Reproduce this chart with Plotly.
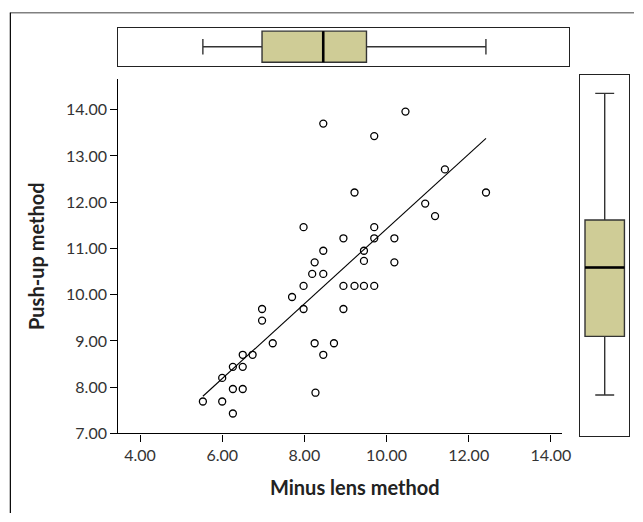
import numpy as np
import plotly.graph_objects as go

# Data
minus_lens = [5.53, 6.00, 6.26, 6.00, 6.26, 6.50, 6.26, 6.50, 6.50, 6.74,
              6.97, 6.97, 7.23, 7.70, 7.98, 7.98, 7.98, 8.19, 8.25, 8.46,
              8.46, 8.46, 8.25, 8.46, 8.27, 8.72, 8.95, 8.95, 8.95, 9.22,
              9.22, 9.45, 9.45, 9.45, 9.70, 9.70, 9.70, 9.70, 10.19, 10.19,
              10.46, 10.94, 11.18, 11.42, 12.42]
push_up = [7.69, 7.69, 7.43, 8.20, 7.96, 7.96, 8.44, 8.44, 8.70, 8.70,
           9.69, 9.44, 8.95, 9.95, 10.19, 9.69, 11.46, 10.45, 10.70, 10.45,
           10.95, 13.70, 8.95, 8.70, 7.88, 8.95, 10.19, 9.69, 11.22, 10.19,
           12.21, 10.19, 10.73, 10.95, 10.19, 11.22, 11.46, 13.43, 11.22, 10.70,
           13.96, 11.97, 11.70, 12.71, 12.21]
x_ticks = [4, 6, 8, 10, 12, 14]
y_ticks = [7, 8, 9, 10, 11, 12, 13, 14]
x_title = "Minus lens method"
y_title = "Push-up method"

xs = np.array(minus_lens)
ys = np.array(push_up)
slope, intercept = np.polyfit(xs, ys, 1)
fit_x = np.array([xs.min(), xs.max()])
fit_y = slope * fit_x + intercept

W, H = 643, 522
def px(x):
    return x / W
def py(y):
    return 1 - y / H

BOX_FILL = "#cfcc96"
BOX_LINE = "#333333"
FONT = "Lato"

fig = go.Figure()

# Regression line
fig.add_trace(go.Scatter(x=fit_x, y=fit_y, mode="lines",
                         line=dict(color="black", width=1.1),
                         hoverinfo="skip", showlegend=False,
                         xaxis="x", yaxis="y"))
# Scatter points
fig.add_trace(go.Scatter(x=minus_lens, y=push_up, mode="markers",
                         marker=dict(symbol="circle-open", size=7,
                                     color="black", line=dict(width=1.3)),
                         showlegend=False, xaxis="x", yaxis="y"))

# Top horizontal box (minus lens)
fig.add_trace(go.Box(x=minus_lens, y0=0, orientation="h", boxpoints=False,
                     width=0.81, whiskerwidth=0.5, quartilemethod="linear",
                     fillcolor=BOX_FILL, line=dict(color=BOX_LINE, width=1.4),
                     showlegend=False, xaxis="x2", yaxis="y2"))
# Right vertical box (push-up)
fig.add_trace(go.Box(y=push_up, x0=0, orientation="v", boxpoints=False,
                     width=0.8, whiskerwidth=0.48, quartilemethod="linear",
                     fillcolor=BOX_FILL, line=dict(color=BOX_LINE, width=1.4),
                     showlegend=False, xaxis="x3", yaxis="y3"))

med_x = float(np.median(xs))
med_y = float(np.median(ys))

tickfont = dict(family=FONT, size=16, color="#333333")

fig.update_layout(
    width=W, height=H,
    margin=dict(l=0, r=0, t=0, b=0),
    paper_bgcolor="white", plot_bgcolor="white",
    xaxis=dict(domain=[px(120), px(570)], range=[3.472, 14.27],
               tickvals=x_ticks, ticktext=[f"{v:.2f}" for v in x_ticks],
               ticks="outside", ticklen=7, tickcolor="black", tickwidth=1.2,
               showline=True, linecolor="black", linewidth=1.3,
               showgrid=False, zeroline=False, tickfont=tickfont,
               anchor="y"),
    yaxis=dict(domain=[py(441), py(80)], range=[7, 14.673],
               tickvals=y_ticks, ticktext=[f"{v:.2f}" for v in y_ticks],
               ticks="outside", ticklen=7, tickcolor="black", tickwidth=1.2,
               showline=True, linecolor="black", linewidth=1.3,
               showgrid=False, zeroline=False, tickfont=tickfont,
               anchor="x"),
    xaxis2=dict(domain=[px(120), px(577)], range=[3.472, 14.44],
                showticklabels=False, ticks="", showgrid=False, zeroline=False,
                showline=True, mirror=True, linecolor="#222222", linewidth=1.3,
                anchor="y2"),
    yaxis2=dict(domain=[py(67), py(28)], range=[-0.5, 0.5],
                showticklabels=False, ticks="", showgrid=False, zeroline=False,
                showline=True, mirror=True, linecolor="#222222", linewidth=1.3,
                anchor="x2"),
    xaxis3=dict(domain=[px(588.3), px(638.3)], range=[-0.5, 0.5],
                showticklabels=False, ticks="", showgrid=False, zeroline=False,
                showline=True, mirror=True, linecolor="#222222", linewidth=1.3,
                anchor="y3"),
    yaxis3=dict(domain=[py(443.3), py(76.7)], range=[6.55, 14.35],
                showticklabels=False, ticks="", showgrid=False, zeroline=False,
                showline=True, mirror=True, linecolor="#222222", linewidth=1.3,
                anchor="x3"),
    annotations=[
        dict(text=f"<b>{x_title}</b>", xref="paper", yref="paper",
             x=px(360), y=py(496), xanchor="center", yanchor="middle",
             showarrow=False, font=dict(family=FONT, size=20, color="#222222")),
        dict(text=f"<b>{y_title}</b>", xref="paper", yref="paper",
             x=px(36), y=py(260), xanchor="center", yanchor="middle",
             textangle=-90, showarrow=False,
             font=dict(family=FONT, size=20, color="#222222")),
    ],
    shapes=[
        # thick median lines
        dict(type="line", xref="x2", yref="y2", x0=med_x, x1=med_x,
             y0=-0.405, y1=0.405, line=dict(color="black", width=2.6)),
        dict(type="line", xref="x3", yref="y3", y0=med_y, y1=med_y,
             x0=-0.4, x1=0.4, line=dict(color="black", width=2.6)),
        # outer frame lines
        dict(type="line", xref="paper", yref="paper", x0=px(10), x1=1,
             y0=py(13), y1=py(13), line=dict(color="#808080", width=1.5)),
        dict(type="line", xref="paper", yref="paper", x0=px(10.5), x1=px(10.5),
             y0=py(13), y1=0, line=dict(color="black", width=1.2)),
    ],
)

fig.write_html("out.html",
               config={"displayModeBar": False},
               post_script="document.body.style.margin='0';"
                           "document.body.style.overflow='hidden';")
